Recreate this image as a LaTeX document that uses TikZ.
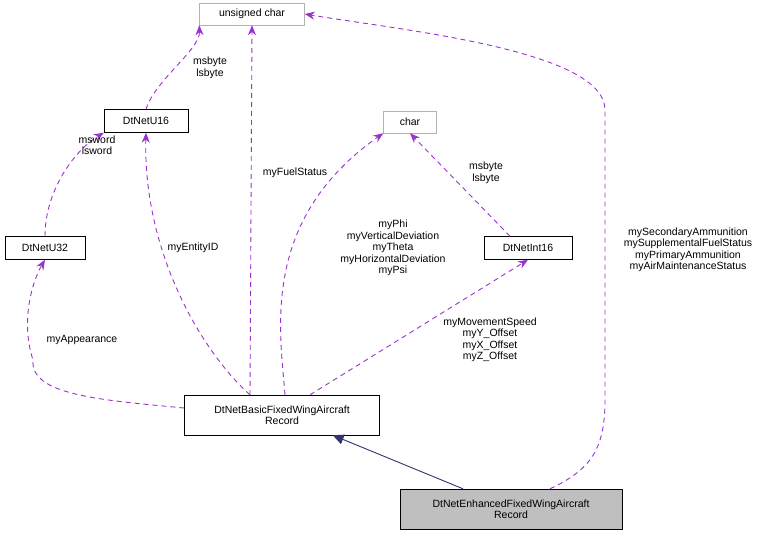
\documentclass[tikz,border=0pt]{standalone}
\usepackage{fontspec}
\setmainfont{Liberation Sans}
\usetikzlibrary{arrows.meta}
\definecolor{edgepurple}{HTML}{9A32CD}
\definecolor{boxgray}{HTML}{BFBFBF}
\tikzset{
  cls/.style={draw,rectangle,inner sep=2pt,font=\fontsize{10.5}{11.5}\selectfont,align=center},
  ext/.style={cls,draw=gray!60},
  uses/.style={draw=edgepurple,line width=0.9pt,dash pattern=on 5pt off 4pt,-{Stealth[length=10pt,width=8pt]}},
  lbl/.style={font=\fontsize{10.5}{11.5}\selectfont,align=center,inner sep=1pt}
}
\begin{document}
\begin{tikzpicture}[x=1pt,y=-1pt]
\useasboundingbox (0,0) rectangle (775,536);

\node[ext,minimum width=105,minimum height=22] (uchar) at (252,14) {unsigned char};
\node[cls,minimum width=84,minimum height=23] (u16) at (146,121) {DtNetU16};
\node[cls,minimum width=80,minimum height=23] (u32) at (45,248) {DtNetU32};
\node[ext,minimum width=53,minimum height=22] (chr) at (410,122) {char};
\node[cls,minimum width=88,minimum height=23] (i16) at (528,248) {DtNetInt16};
\node[cls,minimum width=195,minimum height=40] (basic) at (282,415) {DtNetBasicFixedWingAircraft\\Record};
\node[cls,fill=boxgray,minimum width=222,minimum height=40] (enh) at (511,509) {DtNetEnhancedFixedWingAircraft\\Record};

\draw[uses] (u16.north) .. controls (155,80) and (200,50) .. (uchar.south west);
\node[lbl] at (210,68) {msbyte\\lsbyte};
\draw[uses] (u32.north) .. controls (45,190) and (75,150) .. (u16.south west);
\node[lbl] at (97,145) {msword\\lsword};
\draw[uses] (basic.north) ++(-32,0) .. controls (200,350) and (143,250) .. (u16.south);
\node[lbl] at (193,248) {myEntityID};
\draw[uses] (basic.west) ++(0,-7) .. controls (100,400) and (30,395) .. (33,360) .. controls (20,320) and (33,280) .. (u32.south);
\node[lbl] at (82,340) {myAppearance};
\draw[uses] (basic.north) ++(-32,0) -- (uchar.south);
\node[lbl] at (295,173) {myFuelStatus};
\draw[uses] (basic.north) ++(3,0) .. controls (280,330) and (260,220) .. (chr.south west);
\node[lbl] at (393,248) {myPhi\\myVerticalDeviation\\myTheta\\myHorizontalDeviation\\myPsi};
\draw[uses] (basic.north) ++(28,0) -- (i16.south);
\node[lbl] at (490,340) {myMovementSpeed\\myY\_Offset\\myX\_Offset\\myZ\_Offset};
\draw[uses] (i16.north) ++(-18,0) -- (chr.south);
\node[lbl] at (486,173) {msbyte\\lsbyte};
\draw[uses] (enh.north) ++(39,0) .. controls (590,470) and (605,450) .. (605,400) -- (605,110) .. controls (605,50) and (400,30) .. (uchar.east);
\node[lbl] at (688,250) {mySecondaryAmmunition\\mySupplementalFuelStatus\\myPrimaryAmmunition\\myAirMaintenanceStatus};
\draw[draw=blue!30!black!80,line width=0.9pt,-{Triangle[length=11pt,width=10pt]}] ([xshift=-48pt]enh.north) -- ([xshift=-47pt]basic.south east);

\end{tikzpicture}
\end{document}
